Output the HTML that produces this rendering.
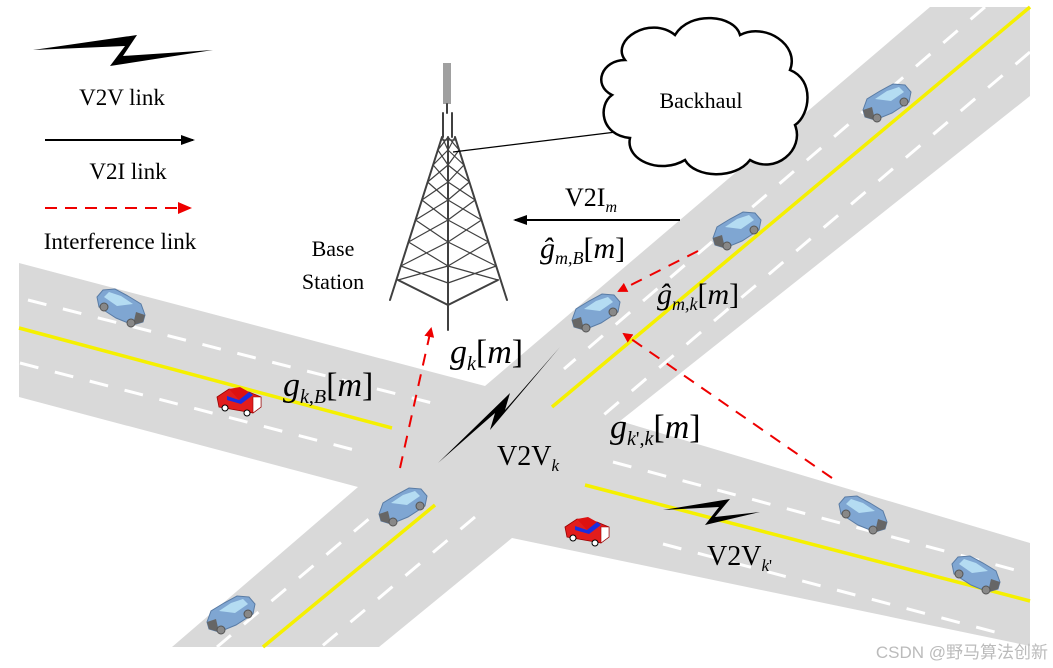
<!DOCTYPE html>
<html><head><meta charset="utf-8"><style>
html,body{margin:0;padding:0;background:#fff;}
svg{display:block;}
text{font-family:"Liberation Serif",serif;fill:#000;}
</style></head><body>
<svg width="1053" height="668" viewBox="0 0 1053 668" xmlns="http://www.w3.org/2000/svg">
<defs>
<g id="bcar">
 <path d="M3,30 L7,19 L20,11 L33,4 L45,5 L51,12 L49,22 L32,33 L15,40 L5,37 Z" fill="#7fa6d2" stroke="#5a7ca5" stroke-width="1"/>
 <path d="M15,19 L27,11 L39,7 L44,12 L31,21 Z" fill="#b4dcf2"/>
 <path d="M3,30 L12,27 L15,40 L5,37 Z" fill="#666"/>
 <circle cx="17" cy="38" r="4" fill="#888" stroke="#555"/>
 <circle cx="44" cy="22" r="4" fill="#888" stroke="#555"/>
</g>
<g id="rcar">
 <path d="M2,14 L14,6 L34,9 L46,14 L46,24 L38,30 L4,24 Z" fill="#e21d1d" stroke="#900" stroke-width="0.8"/>
 <path d="M14,6 L25,4 L34,9 L24,17 Z" fill="#d11"/>
 <path d="M12,13 L24,17 L34,9 L38,12 L26,21 L12,17 Z" fill="#1a2ee0"/>
 <path d="M38,14 L46,14 L46,24 L38,30 Z" fill="#fff" stroke="#900" stroke-width="0.6"/>
 <circle cx="10" cy="25" r="3" fill="#fff" stroke="#000"/>
 <circle cx="32" cy="30" r="3" fill="#fff" stroke="#000"/>
</g>
<marker id="ar" markerWidth="10" markerHeight="10" refX="8" refY="5" orient="auto" markerUnits="userSpaceOnUse"><path d="M0,0 L10,5 L0,10 Z" fill="#e00"/></marker>
<marker id="ab" markerWidth="14" markerHeight="10" refX="12" refY="5" orient="auto" markerUnits="userSpaceOnUse"><path d="M0,0 L14,5 L0,10 Z" fill="#000"/></marker>
</defs>

<polygon points="19,263 485,386 930,7 1030,7 1030,96 620,421 1030,543 1030,646 512,538 379,647 172,647 358,487 19,397" fill="#d9d9d9"/>

<g stroke="#f5f000" stroke-width="3.5" fill="none">
 <line x1="19" y1="328" x2="392" y2="428"/>
 <line x1="435" y1="505" x2="263" y2="647"/>
 <line x1="552" y1="407" x2="1030" y2="7"/>
 <line x1="585" y1="485" x2="1030" y2="601"/>
</g>
<g stroke="#fff" stroke-width="3" fill="none" stroke-dasharray="19 17">
 <line x1="28" y1="300" x2="440" y2="405"/>
 <line x1="20" y1="363" x2="362" y2="452"/>
 <line x1="396" y1="496" x2="217" y2="647"/>
 <line x1="475" y1="517" x2="321" y2="647"/>
 <line x1="985" y1="7" x2="564" y2="369"/>
 <line x1="1030" y1="52" x2="593" y2="424"/>
 <line x1="613" y1="462" x2="1030" y2="574"/>
 <line x1="663" y1="544" x2="1010" y2="636"/>
</g>

<rect x="443" y="63" width="8" height="41" fill="#a0a0a0"/>
<g stroke="#404040" stroke-width="2" fill="none" stroke-linecap="round">
 <path d="M443,113 L443,137 M452,113 L452,137 M447,104 L447,113"/>
 <path d="M442,137 L390,300 M455,137 L507,300 M448,137 L448,330"/>
 <path d="M398,280 L448,305 L498,280"/>
</g>
<g stroke="#404040" stroke-width="1.2" fill="none">
 <path d="M442,137 L448,150 M448,137 L437.9,150 M437.9,150 L448,165 M448,150 L433.1,165 M433.1,165 L448,182 M448,165 L427.6,182 M427.6,182 L448,200 M448,182 L421.9,200 M421.9,200 L448,220 M448,200 L415.5,220 M415.5,220 L448,242 M448,220 L408.5,242 M408.5,242 L448,266 M448,242 L400.8,266 M400.8,266 L448,283 M448,266 L398,280"/>
 <path d="M455,137 L448,150 M448,137 L459.1,150 M459.1,150 L448,165 M448,150 L463.9,165 M463.9,165 L448,182 M448,165 L469.4,182 M469.4,182 L448,200 M448,182 L475.1,200 M475.1,200 L448,220 M448,200 L481.5,220 M481.5,220 L448,242 M448,220 L488.5,242 M488.5,242 L448,266 M448,242 L496.2,266 M496.2,266 L448,283 M448,266 L498,280"/>
 <path d="M440,140 L456,140"/>
</g>
<line x1="453" y1="152" x2="616" y2="132" stroke="#000" stroke-width="1.3"/>

<path d="M625,60 C610,40 650,15 675,35 C690,10 735,15 740,35 C765,22 800,45 790,70 C815,80 810,115 795,125 C805,150 775,175 750,160 C735,180 695,178 685,160 C660,175 625,160 630,138 C600,135 598,105 612,95 C592,85 602,60 625,60 Z" fill="#fff" stroke="#000" stroke-width="2.5"/>
<text x="701" y="108" font-size="22" text-anchor="middle">Backhaul</text>

<polygon points="33,50 137,35 123,56 213,50 110,66 125,46" fill="#000"/>
<text x="122" y="105" font-size="23" text-anchor="middle">V2V link</text>
<line x1="45" y1="140" x2="193" y2="140" stroke="#000" stroke-width="2" marker-end="url(#ab)"/>
<text x="128" y="179" font-size="23" text-anchor="middle">V2I link</text>
<line x1="45" y1="208" x2="190" y2="208" stroke="#e00" stroke-width="2" stroke-dasharray="12 8"/>
<polygon points="178,202 192,208 178,214" fill="#e00"/>
<text x="120" y="249" font-size="23" text-anchor="middle">Interference link</text>

<text x="333" y="256" font-size="22" text-anchor="middle">Base</text>
<text x="333" y="289" font-size="22" text-anchor="middle">Station</text>

<line x1="680" y1="220" x2="515" y2="220" stroke="#000" stroke-width="2" marker-end="url(#ab)"/>
<text x="565" y="206" font-size="26">V2I<tspan font-size="16" font-style="italic" dy="6">m</tspan></text>
<text x="540" y="258" font-size="30"><tspan font-style="italic">ĝ</tspan><tspan font-size="18" font-style="italic" dy="6">m,B</tspan><tspan dy="-6">[</tspan><tspan font-style="italic">m</tspan>]</text>
<text x="657" y="304" font-size="30"><tspan font-style="italic">ĝ</tspan><tspan font-size="18" font-style="italic" dy="6">m,k</tspan><tspan dy="-6">[</tspan><tspan font-style="italic">m</tspan>]</text>

<g stroke="#e00" stroke-width="2" fill="none" stroke-dasharray="12 9">
 <line x1="698" y1="251" x2="619" y2="291" marker-end="url(#ar)"/>
 <line x1="832" y1="478" x2="624" y2="334" marker-end="url(#ar)"/>
 <line x1="400" y1="468" x2="431" y2="329" marker-end="url(#ar)"/>
</g>

<polygon points="438,463 510,393 505,410 560,347 490,430 495,413" fill="#000"/>
<polygon points="663,510 730,499 715,517 760,512 705,525 719,507" fill="#000"/>

<text x="283" y="396" font-size="34"><tspan font-style="italic">g</tspan><tspan font-size="20" font-style="italic" dy="7">k</tspan><tspan font-size="20">,</tspan><tspan font-size="20" font-style="italic">B</tspan><tspan dy="-7">[</tspan><tspan font-style="italic">m</tspan>]</text>
<text x="450" y="363" font-size="34"><tspan font-style="italic">g</tspan><tspan font-size="20" font-style="italic" dy="7">k</tspan><tspan dy="-7">[</tspan><tspan font-style="italic">m</tspan>]</text>
<text x="610" y="438" font-size="34"><tspan font-style="italic">g</tspan><tspan font-size="20" font-style="italic" dy="7">k</tspan><tspan font-size="20">',</tspan><tspan font-size="20" font-style="italic">k</tspan><tspan dy="-7">[</tspan><tspan font-style="italic">m</tspan>]</text>
<text x="497" y="465" font-size="28">V2V<tspan font-size="17" font-style="italic" dy="6">k</tspan></text>
<text x="707" y="565" font-size="28">V2V<tspan font-size="17" font-style="italic" dy="6">k</tspan><tspan font-size="17">'</tspan></text>

<use href="#bcar" transform="translate(860,80)"/>
<use href="#bcar" transform="translate(710,208)"/>
<use href="#bcar" transform="translate(569,290)"/>
<use href="#bcar" transform="translate(376,484)"/>
<use href="#bcar" transform="translate(204,592)"/>
<use href="#bcar" transform="translate(148,285) scale(-1,1)"/>
<use href="#bcar" transform="translate(890,492) scale(-1,1)"/>
<use href="#bcar" transform="translate(1003,552) scale(-1,1)"/>
<use href="#rcar" transform="translate(215,383)"/>
<use href="#rcar" transform="translate(563,513)"/>

<text x="1048" y="658" font-size="17" text-anchor="end" style="font-family:'Liberation Sans','Noto Sans CJK SC',sans-serif;fill:#bbb">CSDN @野马算法创新</text>
</svg>
</body></html>
